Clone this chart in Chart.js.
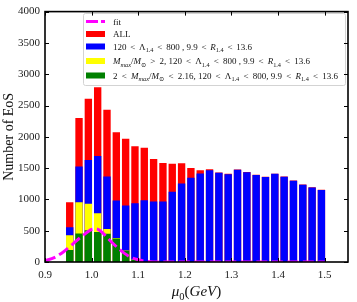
<!DOCTYPE html>
<html lang="en">
<head>
<meta charset="UTF-8">
<title>Number of EoS vs mu0</title>
<script src="https://cdn.jsdelivr.net/npm/chart.js"></script>
<style>
  body { margin: 0; background: #fff; }
  #wrap { width: 357px; height: 302px; }
</style>
</head>
<body>
<div id="wrap"><canvas id="hist" width="357" height="302"></canvas></div>
<script>
// histogram bins (centre of each 0.02 GeV bin)
const binCenters = [0.953, 0.973, 0.993, 1.013, 1.033, 1.053, 1.073, 1.093, 1.113, 1.133,
                    1.153, 1.173, 1.193, 1.213, 1.233, 1.253, 1.273, 1.293, 1.313, 1.333,
                    1.353, 1.373, 1.393, 1.413, 1.433, 1.453, 1.473, 1.493];
// counts
const allCounts    = [954, 2299, 2606, 2790, 2432, 2073, 1967, 1851, 1825, 1646,
                      1582, 1571, 1577, 1503, 1467, 1482, 1428, 1410, 1476, 1438,
                      1392, 1360, 1410, 1364, 1300, 1237, 1195, 1153];
const lambdaCounts = [554, 1524, 1630, 1693, 1366, 981, 902, 938, 986, 965,
                      965, 1123, 1255, 1345, 1413, 1467, 1424, 1403, 1472, 1435,
                      1388, 1356, 1408, 1361, 1297, 1234, 1192, 1150];
const mmax2Counts  = [427, 954, 929, 780, 528, 385, 185, 40, 0, 0,
                      0, 0, 0, 0, 0, 0, 0, 0, 0, 0,
                      0, 0, 0, 0, 0, 0, 0, 0];
const mmax216Counts = [190, 454, 506, 480, 450, 375, 180, 35, 0, 0,
                      0, 0, 0, 0, 0, 0, 0, 0, 0, 0,
                      0, 0, 0, 0, 0, 0, 0, 0];
// fit curve
const fitX = [0.90, 0.92, 0.94, 0.96, 0.98, 1.00, 1.01, 1.02, 1.04, 1.06, 1.08, 1.10, 1.12, 1.15, 1.20, 1.30, 1.40, 1.50];
const fitY = [20, 70, 165, 290, 415, 520, 528, 490, 340, 200, 90, 35, 10, 0, 0, 0, 0, 0];

const xTicks = [0.9, 1.0, 1.1, 1.2, 1.3, 1.4, 1.5];
const yTicks = [0, 500, 1000, 1500, 2000, 2500, 3000, 3500, 4000];

// legend text, split into [text, style] pieces for the math bits
const legendRows = [
  [['fit', 'r']],
  [['ALL', 'r']],
  [['120<Λ', 'r'], ['1.4', 'sub'], ['<800 , 9.9<', 'r'], ['R', 'i'], ['1.4', 'sub'], ['<13.6', 'r']],
  [['M', 'i'], ['max', 'subi'], ['/', 'r'], ['M', 'i'], ['⊙', 'sub'], ['>2, 120<Λ', 'r'], ['1.4', 'sub'],
   ['<800 , 9.9<', 'r'], ['R', 'i'], ['1.4', 'sub'], ['<13.6', 'r']],
  [['2<', 'r'], ['M', 'i'], ['max', 'subi'], ['/', 'r'], ['M', 'i'], ['⊙', 'sub'], ['<2.16, 120<Λ', 'r'], ['1.4', 'sub'],
   ['<800, 9.9<', 'r'], ['R', 'i'], ['1.4', 'sub'], ['<13.6', 'r']]
];
// right end of each legend text line in the figure (px)
const legendEnds = [0, 0, 252, 310, 338];

const SERIF = '"Liberation Serif", "DejaVu Serif", serif';

function xy(xs, ys) {
  return xs.map((x, i) => ({ x: x, y: ys[i] }));
}

// draws (or only measures) a run of text pieces; pad goes on each side of < and >
function rich(ctx, parts, x, y, size, draw, pad) {
  let slots = 0;
  parts.forEach(([t, s]) => {
    const sub = s === 'sub' || s === 'subi';
    const it = s === 'i' || s === 'subi';
    const fs = sub ? size * 0.7 : size;
    ctx.font = (it ? 'italic ' : '') + fs + 'px ' + SERIF;
    const yy = sub ? y + size * 0.28 : y;
    t.split(/([<>])/).forEach(piece => {
      if (!piece) return;
      const rel = piece === '<' || piece === '>';
      if (rel) { x += pad; slots += 2; }
      if (draw) ctx.fillText(piece, x, yy);
      x += ctx.measureText(piece).width;
      if (rel) x += pad;
    });
  });
  return { end: x, slots: slots };
}

const decorations = {
  id: 'decorations',
  afterDraw(chart) {
    const { ctx, chartArea: a, scales: { x, y } } = chart;
    ctx.save();

    // legend box
    const rowY = [21.5, 34, 46.5, 61, 75.5];
    ctx.beginPath();
    ctx.roundRect(83.5, 13.5, 262, 72, 2);
    ctx.fillStyle = 'rgba(255,255,255,0.85)';
    ctx.fill();
    ctx.strokeStyle = '#d3d3d3';
    ctx.lineWidth = 1;
    ctx.stroke();

    const ds = chart.data.datasets;
    legendRows.forEach((parts, i) => {
      const cy = rowY[i];
      if (i === 0) {
        ctx.strokeStyle = ds[0].borderColor;
        ctx.lineWidth = 3;
        ctx.setLineDash([12, 3]);
        ctx.beginPath();
        ctx.moveTo(86, cy);
        ctx.lineTo(105, cy);
        ctx.stroke();
        ctx.setLineDash([]);
      } else {
        ctx.fillStyle = ds[i].backgroundColor;
        ctx.fillRect(86, cy - 3, 19, 6);
      }
      ctx.fillStyle = '#111';
      ctx.textBaseline = 'alphabetic';
      const m = rich(ctx, parts, 113, 0, 9, false, 0);
      const pad = m.slots ? Math.max(0.5, (legendEnds[i] - m.end) / m.slots) : 0;
      rich(ctx, parts, 113, cy + 3, 9, true, pad);
    });

    // inward ticks on all four sides
    ctx.strokeStyle = '#000';
    ctx.lineWidth = 1;
    ctx.beginPath();
    xTicks.forEach(v => {
      const px = Math.round(x.getPixelForValue(v)) + 0.5;
      ctx.moveTo(px, a.bottom); ctx.lineTo(px, a.bottom - 4);
      ctx.moveTo(px, a.top); ctx.lineTo(px, a.top + 4);
    });
    yTicks.forEach(v => {
      const py = Math.round(y.getPixelForValue(v)) + 0.5;
      ctx.moveTo(a.left, py); ctx.lineTo(a.left + 4, py);
      ctx.moveTo(a.right, py); ctx.lineTo(a.right - 4, py);
    });
    ctx.stroke();

    // frame
    ctx.lineWidth = 1.6;
    ctx.strokeRect(a.left, a.top, a.right - a.left, a.bottom - a.top);

    // axis titles
    ctx.fillStyle = '#111';
    ctx.textBaseline = 'middle';
    ctx.save();
    ctx.translate(9.5, (a.top + a.bottom) / 2);
    ctx.rotate(-Math.PI / 2);
    ctx.textAlign = 'center';
    ctx.font = '14px ' + SERIF;
    ctx.fillText('Number of EoS', 0, 0);
    ctx.restore();

    const xt = [['μ', 'i'], ['0', 'sub'], ['(', 'r'], ['GeV', 'i'], [')', 'r']];
    const w = rich(ctx, xt, 0, 0, 15, false, 0).end;
    ctx.textAlign = 'left';
    ctx.textBaseline = 'alphabetic';
    rich(ctx, xt, (a.left + a.right) / 2 - w / 2, 296, 15, true, 0);

    ctx.restore();
  }
};

const ctx = document.getElementById('hist').getContext('2d');
new Chart(ctx, {
  type: 'bar',
  data: {
    datasets: [
      {
        type: 'line',
        label: 'fit',
        data: xy(fitX, fitY),
        borderColor: '#ff00ff',
        borderWidth: 3,
        borderDash: [11, 4.5],
        pointRadius: 0,
        cubicInterpolationMode: 'monotone',
        fill: false,
        order: 0
      },
      {
        label: 'ALL',
        data: xy(binCenters, allCounts),
        backgroundColor: '#ff0000',
        order: 4
      },
      {
        label: '120 < Λ1.4 < 800 , 9.9 < R1.4 < 13.6',
        data: xy(binCenters, lambdaCounts),
        backgroundColor: '#0000ff',
        order: 3
      },
      {
        label: 'Mmax/M⊙ > 2',
        data: xy(binCenters, mmax2Counts),
        backgroundColor: '#ffff00',
        order: 2
      },
      {
        label: '2 < Mmax/M⊙ < 2.16',
        data: xy(binCenters, mmax216Counts),
        backgroundColor: '#008000',
        order: 1
      }
    ]
  },
  options: {
    responsive: false,
    animation: false,
    devicePixelRatio: 1,
    events: [],
    grouped: false,
    barPercentage: 0.79,
    categoryPercentage: 1.0,
    layout: { padding: { top: 9, right: 9, left: 0, bottom: 0 } },
    plugins: {
      legend: { display: false },
      tooltip: { enabled: false }
    },
    scales: {
      x: {
        type: 'linear',
        min: 0.9,
        max: 1.55,
        offset: false,
        grid: { display: false, drawTicks: false },
        border: { display: false },
        afterBuildTicks: s => { s.ticks = xTicks.map(v => ({ value: v })); },
        afterFit: s => { s.height = 40; },
        ticks: {
          padding: 7,
          maxRotation: 0,
          color: '#222',
          font: { family: SERIF, size: 11 },
          callback: v => v.toFixed(1)
        }
      },
      y: {
        min: 0,
        max: 4000,
        grid: { display: false, drawTicks: false },
        border: { display: false },
        afterBuildTicks: s => { s.ticks = yTicks.map(v => ({ value: v })); },
        afterFit: s => { s.width = 45; },
        ticks: {
          padding: 5,
          color: '#222',
          font: { family: SERIF, size: 11 },
          callback: v => String(v)
        }
      }
    }
  },
  plugins: [decorations]
});
</script>
</body>
</html>
